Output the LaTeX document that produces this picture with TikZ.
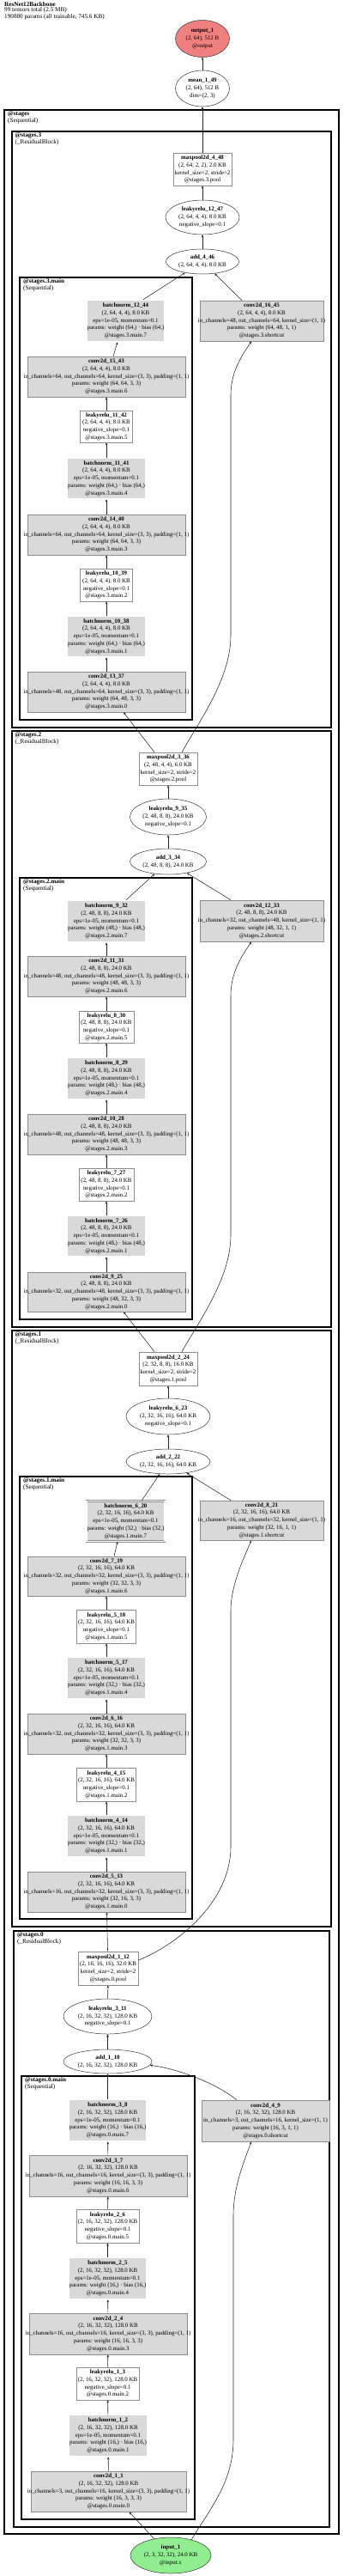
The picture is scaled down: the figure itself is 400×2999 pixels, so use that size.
\documentclass[tikz,border=0pt]{standalone}
\usepackage{fontspec}
\setmainfont{Liberation Serif}
\usetikzlibrary{shapes.geometric,arrows.meta}
\definecolor{convgray}{HTML}{D9D9D9}
\definecolor{outred}{HTML}{F08080}
\definecolor{ingreen}{HTML}{90EE90}
\definecolor{boxline}{HTML}{8C8C8C}
\newcommand{\nfont}{\fontsize{6.9}{8.7}\selectfont}
\newcommand{\cfont}{\fontsize{7.2}{6.3}\selectfont}
\tikzset{
  lbl/.style={font=\nfont, align=center, inner xsep=-25pt, inner ysep=-4pt, text=black},
  convbox/.style={lbl, rectangle, draw=boxline, fill=convgray, line width=0.6pt},
  plainbox/.style={lbl, rectangle, draw=boxline, fill=white, line width=0.6pt},
  bnbox/.style={lbl, rectangle, draw=boxline, fill=convgray, double=white, double distance=1.1pt, line width=0.5pt},
  oval/.style={lbl, ellipse, draw=black!80, fill=white, line width=0.5pt},
  clusterA/.style={draw=black, line width=2.5pt},
  clusterB/.style={draw=black, line width=2.0pt},
  clusterC/.style={draw=black, line width=1.4pt},
  clabel/.style={font=\cfont, align=left, anchor=north west, inner sep=0pt, text=black},
  edge/.style={draw=black!85, line width=0.55pt, -{Stealth[length=3.2pt,width=2.6pt]}},
}
\begin{document}
\begin{tikzpicture}[x=1pt,y=-1pt]
\useasboundingbox (0,0) rectangle (400,2999);
\fill[white] (0,0) rectangle (400,2999);

% ---------- clusters ----------
\draw[clusterA] (5,128) rectangle (395,2950);
\draw[clusterB] (13.5,153) rectangle (386,847);
\draw[clusterC] (23,323) rectangle (224,838);
\draw[clusterB] (13.5,851) rectangle (386,1545);
\draw[clusterC] (23,1022) rectangle (224,1536);
\draw[clusterB] (13.5,1549) rectangle (386,2243);
\draw[clusterC] (23,1719) rectangle (224,2234);
\draw[clusterB] (16,2248) rectangle (384,2942);
\draw[clusterC] (25,2417) rectangle (227,2933);

% ---------- labels ----------
\node[clabel] (hdr) at (5,2) {\textbf{ResNet12Backbone}\\99 tensors total (2.5 MB)\\190880 params (all trainable, 745.6 KB)};
\node[clabel] (Lst) at (9,129.5) {\textbf{@stages}\\(Sequential)};
\node[clabel] (Lst3) at (17.5,154.5) {\textbf{@stages.3}\\(\_ResidualBlock)};
\node[clabel] (Lst3m) at (27,324.5) {\textbf{@stages.3.main}\\(Sequential)};
\node[clabel] (Lst2) at (17.5,852.5) {\textbf{@stages.2}\\(\_ResidualBlock)};
\node[clabel] (Lst2m) at (27,1023.5) {\textbf{@stages.2.main}\\(Sequential)};
\node[clabel] (Lst1) at (17.5,1550.5) {\textbf{@stages.1}\\(\_ResidualBlock)};
\node[clabel] (Lst1m) at (27,1720.5) {\textbf{@stages.1.main}\\(Sequential)};
\node[clabel] (Lst0) at (20,2249.5) {\textbf{@stages.0}\\(\_ResidualBlock)};
\node[clabel] (Lst0m) at (29,2418.5) {\textbf{@stages.0.main}\\(Sequential)};

% ---------- top ----------
\node[oval, fill=outred, minimum width=63pt, minimum height=43pt] (out) at (236,45) {\textbf{output\_1}\\(2, 64), 512 B\\@output};
\node[oval, minimum width=63pt, minimum height=42pt] (mean) at (236,103) {\textbf{mean\_1\_49}\\(2, 64), 512 B\\dim=(2, 3)};

% ---------- stage 3 ----------
\node[plainbox, minimum width=68pt, minimum height=38pt] (mp4) at (236,197) {\textbf{maxpool2d\_4\_48}\\(2, 64, 2, 2), 2.0 KB\\kernel\_size=2, stride=2\\@stages.3.pool};
\node[oval, minimum width=86pt, minimum height=40pt] (lr12) at (236,253) {\textbf{leakyrelu\_12\_47}\\(2, 64, 4, 4), 8.0 KB\\negative\_slope=0.1};
\node[oval, minimum width=85pt, minimum height=29pt] (add4) at (236,304.5) {\textbf{add\_4\_46}\\(2, 64, 4, 4), 8.0 KB};
\node[bnbox, minimum width=91pt, minimum height=49pt] (bn12) at (146.5,373.5) {\textbf{batchnorm\_12\_44}\\(2, 64, 4, 4), 8.0 KB\\eps=1e-05, momentum=0.1\\params: weight (64,) · bias (64,)\\@stages.3.main.7};
\node[convbox, minimum width=144pt, minimum height=47pt] (c16) at (305,373.5) {\textbf{conv2d\_16\_45}\\(2, 64, 4, 4), 8.0 KB\\in\_channels=48, out\_channels=64, kernel\_size=(1, 1)\\params: weight (64, 48, 1, 1)\\@stages.3.shortcut};
\node[convbox, minimum width=184pt, minimum height=47pt] (c15) at (124,438.5) {\textbf{conv2d\_15\_43}\\(2, 64, 4, 4), 8.0 KB\\in\_channels=64, out\_channels=64, kernel\_size=(3, 3), padding=(1, 1)\\params: weight (64, 64, 3, 3)\\@stages.3.main.6};
\node[plainbox, minimum width=61pt, minimum height=37pt] (lr11) at (124,496.5) {\textbf{leakyrelu\_11\_42}\\(2, 64, 4, 4), 8.0 KB\\negative\_slope=0.1\\@stages.3.main.5};
\node[bnbox, minimum width=92pt, minimum height=48pt] (bn11) at (124,557) {\textbf{batchnorm\_11\_41}\\(2, 64, 4, 4), 8.0 KB\\eps=1e-05, momentum=0.1\\params: weight (64,) · bias (64,)\\@stages.3.main.4};
\node[convbox, minimum width=184pt, minimum height=47pt] (c14) at (124,622.5) {\textbf{conv2d\_14\_40}\\(2, 64, 4, 4), 8.0 KB\\in\_channels=64, out\_channels=64, kernel\_size=(3, 3), padding=(1, 1)\\params: weight (64, 64, 3, 3)\\@stages.3.main.3};
\node[plainbox, minimum width=61pt, minimum height=38pt] (lr10) at (124,681) {\textbf{leakyrelu\_10\_39}\\(2, 64, 4, 4), 8.0 KB\\negative\_slope=0.1\\@stages.3.main.2};
\node[bnbox, minimum width=92pt, minimum height=48pt] (bn10) at (124,741) {\textbf{batchnorm\_10\_38}\\(2, 64, 4, 4), 8.0 KB\\eps=1e-05, momentum=0.1\\params: weight (64,) · bias (64,)\\@stages.3.main.1};
\node[convbox, minimum width=184pt, minimum height=47pt] (c13) at (124,805.5) {\textbf{conv2d\_13\_37}\\(2, 64, 4, 4), 8.0 KB\\in\_channels=48, out\_channels=64, kernel\_size=(3, 3), padding=(1, 1)\\params: weight (64, 48, 3, 3)\\@stages.3.main.0};

% ---------- stage 2 ----------
\node[plainbox, minimum width=68pt, minimum height=38pt] (mp3) at (196,895) {\textbf{maxpool2d\_3\_36}\\(2, 48, 4, 4), 6.0 KB\\kernel\_size=2, stride=2\\@stages.2.pool};
\node[oval, minimum width=89pt, minimum height=42pt] (lr9) at (196,951) {\textbf{leakyrelu\_9\_35}\\(2, 48, 8, 8), 24.0 KB\\negative\_slope=0.1};
\node[oval, minimum width=89pt, minimum height=30pt] (add3) at (196,1003) {\textbf{add\_3\_34}\\(2, 48, 8, 8), 24.0 KB};
\node[bnbox, minimum width=92pt, minimum height=49pt] (bn9) at (124,1072.5) {\textbf{batchnorm\_9\_32}\\(2, 48, 8, 8), 24.0 KB\\eps=1e-05, momentum=0.1\\params: weight (48,) · bias (48,)\\@stages.2.main.7};
\node[convbox, minimum width=144pt, minimum height=48pt] (c12) at (305,1072) {\textbf{conv2d\_12\_33}\\(2, 48, 8, 8), 24.0 KB\\in\_channels=32, out\_channels=48, kernel\_size=(1, 1)\\params: weight (48, 32, 1, 1)\\@stages.2.shortcut};
\node[convbox, minimum width=184pt, minimum height=47pt] (c11) at (124,1136.5) {\textbf{conv2d\_11\_31}\\(2, 48, 8, 8), 24.0 KB\\in\_channels=48, out\_channels=48, kernel\_size=(3, 3), padding=(1, 1)\\params: weight (48, 48, 3, 3)\\@stages.2.main.6};
\node[plainbox, minimum width=64pt, minimum height=37pt] (lr8) at (124,1195.5) {\textbf{leakyrelu\_8\_30}\\(2, 48, 8, 8), 24.0 KB\\negative\_slope=0.1\\@stages.2.main.5};
\node[bnbox, minimum width=92pt, minimum height=49pt] (bn8) at (124,1255.5) {\textbf{batchnorm\_8\_29}\\(2, 48, 8, 8), 24.0 KB\\eps=1e-05, momentum=0.1\\params: weight (48,) · bias (48,)\\@stages.2.main.4};
\node[convbox, minimum width=184pt, minimum height=47pt] (c10) at (124,1320.5) {\textbf{conv2d\_10\_28}\\(2, 48, 8, 8), 24.0 KB\\in\_channels=48, out\_channels=48, kernel\_size=(3, 3), padding=(1, 1)\\params: weight (48, 48, 3, 3)\\@stages.2.main.3};
\node[plainbox, minimum width=64pt, minimum height=38pt] (lr7) at (124,1379) {\textbf{leakyrelu\_7\_27}\\(2, 48, 8, 8), 24.0 KB\\negative\_slope=0.1\\@stages.2.main.2};
\node[bnbox, minimum width=92pt, minimum height=48pt] (bn7) at (124,1439) {\textbf{batchnorm\_7\_26}\\(2, 48, 8, 8), 24.0 KB\\eps=1e-05, momentum=0.1\\params: weight (48,) · bias (48,)\\@stages.2.main.1};
\node[convbox, minimum width=184pt, minimum height=46pt] (c9) at (124,1504) {\textbf{conv2d\_9\_25}\\(2, 48, 8, 8), 24.0 KB\\in\_channels=32, out\_channels=48, kernel\_size=(3, 3), padding=(1, 1)\\params: weight (48, 32, 3, 3)\\@stages.2.main.0};

% ---------- stage 1 ----------
\node[plainbox, minimum width=68pt, minimum height=39pt] (mp2) at (196,1593.5) {\textbf{maxpool2d\_2\_24}\\(2, 32, 8, 8), 16.0 KB\\kernel\_size=2, stride=2\\@stages.1.pool};
\node[oval, minimum width=98pt, minimum height=42pt] (lr6) at (196,1649) {\textbf{leakyrelu\_6\_23}\\(2, 32, 16, 16), 64.0 KB\\negative\_slope=0.1};
\node[oval, minimum width=98pt, minimum height=29pt] (add2) at (196,1701.5) {\textbf{add\_2\_22}\\(2, 32, 16, 16), 64.0 KB};
\node[bnbox, minimum width=91pt, minimum height=47pt] (bn6) at (146.5,1771) {\textbf{batchnorm\_6\_20}\\(2, 32, 16, 16), 64.0 KB\\eps=1e-05, momentum=0.1\\params: weight (32,) · bias (32,)\\@stages.1.main.7};
\node[convbox, minimum width=144pt, minimum height=46pt] (c8) at (305,1770) {\textbf{conv2d\_8\_21}\\(2, 32, 16, 16), 64.0 KB\\in\_channels=16, out\_channels=32, kernel\_size=(1, 1)\\params: weight (32, 16, 1, 1)\\@stages.1.shortcut};
\node[convbox, minimum width=184pt, minimum height=46pt] (c7) at (124,1835) {\textbf{conv2d\_7\_19}\\(2, 32, 16, 16), 64.0 KB\\in\_channels=32, out\_channels=32, kernel\_size=(3, 3), padding=(1, 1)\\params: weight (32, 32, 3, 3)\\@stages.1.main.6};
\node[plainbox, minimum width=69pt, minimum height=39pt] (lr5) at (124,1893.5) {\textbf{leakyrelu\_5\_18}\\(2, 32, 16, 16), 64.0 KB\\negative\_slope=0.1\\@stages.1.main.5};
\node[bnbox, minimum width=92pt, minimum height=49pt] (bn5) at (124,1953.5) {\textbf{batchnorm\_5\_17}\\(2, 32, 16, 16), 64.0 KB\\eps=1e-05, momentum=0.1\\params: weight (32,) · bias (32,)\\@stages.1.main.4};
\node[convbox, minimum width=184pt, minimum height=47pt] (c6) at (124,2018.5) {\textbf{conv2d\_6\_16}\\(2, 32, 16, 16), 64.0 KB\\in\_channels=32, out\_channels=32, kernel\_size=(3, 3), padding=(1, 1)\\params: weight (32, 32, 3, 3)\\@stages.1.main.3};
\node[plainbox, minimum width=69pt, minimum height=39pt] (lr4) at (124,2077.5) {\textbf{leakyrelu\_4\_15}\\(2, 32, 16, 16), 64.0 KB\\negative\_slope=0.1\\@stages.1.main.2};
\node[bnbox, minimum width=92pt, minimum height=49pt] (bn4) at (124,2137.5) {\textbf{batchnorm\_4\_14}\\(2, 32, 16, 16), 64.0 KB\\eps=1e-05, momentum=0.1\\params: weight (32,) · bias (32,)\\@stages.1.main.1};
\node[convbox, minimum width=184pt, minimum height=47pt] (c5) at (124,2202.5) {\textbf{conv2d\_5\_13}\\(2, 32, 16, 16), 64.0 KB\\in\_channels=16, out\_channels=32, kernel\_size=(3, 3), padding=(1, 1)\\params: weight (32, 16, 3, 3)\\@stages.1.main.0};

% ---------- stage 0 ----------
\node[plainbox, minimum width=70pt, minimum height=39pt] (mp1) at (126,2291.5) {\textbf{maxpool2d\_1\_12}\\(2, 16, 16, 16), 32.0 KB\\kernel\_size=2, stride=2\\@stages.0.pool};
\node[oval, minimum width=103pt, minimum height=41pt] (lr3) at (125.5,2347.5) {\textbf{leakyrelu\_3\_11}\\(2, 16, 32, 32), 128.0 KB\\negative\_slope=0.1};
\node[oval, minimum width=103pt, minimum height=28pt] (add1) at (125.5,2400) {\textbf{add\_1\_10}\\(2, 16, 32, 32), 128.0 KB};
\node[bnbox, minimum width=91pt, minimum height=49pt] (bn3) at (125.5,2468.5) {\textbf{batchnorm\_3\_8}\\(2, 16, 32, 32), 128.0 KB\\eps=1e-05, momentum=0.1\\params: weight (16,) · bias (16,)\\@stages.0.main.7};
\node[convbox, minimum width=149pt, minimum height=48pt] (c4) at (309.5,2469) {\textbf{conv2d\_4\_9}\\(2, 16, 32, 32), 128.0 KB\\in\_channels=3, out\_channels=16, kernel\_size=(1, 1)\\params: weight (16, 3, 1, 1)\\@stages.0.shortcut};
\node[convbox, minimum width=184pt, minimum height=48pt] (c3) at (126,2533) {\textbf{conv2d\_3\_7}\\(2, 16, 32, 32), 128.0 KB\\in\_channels=16, out\_channels=16, kernel\_size=(3, 3), padding=(1, 1)\\params: weight (16, 16, 3, 3)\\@stages.0.main.6};
\node[plainbox, minimum width=73pt, minimum height=39pt] (lr2) at (125.5,2591.5) {\textbf{leakyrelu\_2\_6}\\(2, 16, 32, 32), 128.0 KB\\negative\_slope=0.1\\@stages.0.main.5};
\node[bnbox, minimum width=91pt, minimum height=49pt] (bn2) at (125.5,2652.5) {\textbf{batchnorm\_2\_5}\\(2, 16, 32, 32), 128.0 KB\\eps=1e-05, momentum=0.1\\params: weight (16,) · bias (16,)\\@stages.0.main.4};
\node[convbox, minimum width=184pt, minimum height=48pt] (c2) at (126,2717) {\textbf{conv2d\_2\_4}\\(2, 16, 32, 32), 128.0 KB\\in\_channels=16, out\_channels=16, kernel\_size=(3, 3), padding=(1, 1)\\params: weight (16, 16, 3, 3)\\@stages.0.main.3};
\node[plainbox, minimum width=73pt, minimum height=38pt] (lr1) at (125.5,2775) {\textbf{leakyrelu\_1\_3}\\(2, 16, 32, 32), 128.0 KB\\negative\_slope=0.1\\@stages.0.main.2};
\node[bnbox, minimum width=92pt, minimum height=49pt] (bn1) at (126,2835.5) {\textbf{batchnorm\_1\_2}\\(2, 16, 32, 32), 128.0 KB\\eps=1e-05, momentum=0.1\\params: weight (16,) · bias (16,)\\@stages.0.main.1};
\node[convbox, minimum width=181pt, minimum height=47pt] (c1) at (126.5,2900.5) {\textbf{conv2d\_1\_1}\\(2, 16, 32, 32), 128.0 KB\\in\_channels=3, out\_channels=16, kernel\_size=(3, 3), padding=(1, 1)\\params: weight (16, 3, 3, 3)\\@stages.0.main.0};

\node[oval, fill=ingreen, minimum width=94pt, minimum height=42pt] (inp) at (199,2975) {\textbf{input\_1}\\(2, 3, 32, 32), 24.0 KB\\@input.x};

% ---------- edges ----------
\draw[edge] (mean) -- (out);
\draw[edge] (mp4) -- (mean);
\draw[edge] (lr12) -- (mp4);
\draw[edge] (add4) -- (lr12);
\draw[edge] ([xshift=20.5pt]bn12.north) -- (add4);
\draw[edge] ([xshift=-23pt]c16.north) -- (add4);
\draw[edge] ([xshift=8pt]c15.north) -- ([xshift=-9.5pt]bn12.south);
\draw[edge] (lr11) -- (c15);
\draw[edge] (bn11) -- (lr11);
\draw[edge] (c14) -- (bn11);
\draw[edge] (lr10) -- (c14);
\draw[edge] (bn10) -- (lr10);
\draw[edge] (c13) -- (bn10);
\draw[edge] ([xshift=-16pt]mp3.north) -- ([xshift=20pt]c13.south);
\draw[edge] ([xshift=16pt]mp3.north) .. controls (232,840) and (269,790) .. (269,740) -- (269,460) .. controls (269,430) and (285,410) .. ([xshift=-12pt]c16.south);

\draw[edge] (lr9) -- (mp3);
\draw[edge] (add3) -- (lr9);
\draw[edge] ([xshift=23pt]bn9.north) -- (add3);
\draw[edge] ([xshift=-36pt]c12.north) -- (add3);
\draw[edge] (c11) -- (bn9);
\draw[edge] (lr8) -- (c11);
\draw[edge] (bn8) -- (lr8);
\draw[edge] (c10) -- (bn8);
\draw[edge] (lr7) -- (c10);
\draw[edge] (bn7) -- (lr7);
\draw[edge] (c9) -- (bn7);
\draw[edge] ([xshift=-16pt]mp2.north) -- ([xshift=20pt]c9.south);
\draw[edge] ([xshift=16pt]mp2.north) .. controls (232,1538) and (269,1488) .. (269,1438) -- (269,1159) .. controls (269,1129) and (285,1109) .. ([xshift=-12pt]c12.south);

\draw[edge] (lr6) -- (mp2);
\draw[edge] (add2) -- (lr6);
\draw[edge] ([xshift=18.5pt]bn6.north) -- (add2);
\draw[edge] ([xshift=-36pt]c8.north) -- (add2);
\draw[edge] ([xshift=9pt]c7.north) -- ([xshift=-9.5pt]bn6.south);
\draw[edge] (lr5) -- (c7);
\draw[edge] (bn5) -- (lr5);
\draw[edge] (c6) -- (bn5);
\draw[edge] (lr4) -- (c6);
\draw[edge] (bn4) -- (lr4);
\draw[edge] (c5) -- (bn4);
\draw[edge] (mp1) -- (c5);
\draw[edge] ([yshift=9.5pt]mp1.east) .. controls (205,2265) and (269,2215) .. (269,2150) -- (269,1875) .. controls (269,1845) and (285,1812) .. ([xshift=-12pt]c8.south);

\draw[edge] (lr3) -- (mp1);
\draw[edge] (add1) -- (lr3);
\draw[edge] (bn3) -- (add1);
\draw[edge] ([xshift=-33.5pt]c4.north) .. controls (250,2424) and (205,2408) .. (add1.-5);
\draw[edge] (c3) -- (bn3);
\draw[edge] (lr2) -- (c3);
\draw[edge] (bn2) -- (lr2);
\draw[edge] (c2) -- (bn2);
\draw[edge] (lr1) -- (c2);
\draw[edge] (bn1) -- (lr1);
\draw[edge] (c1) -- (bn1);
\draw[edge] (inp.135) -- ([xshift=24pt]c1.south);
\draw[edge] (inp.37) .. controls (245,2920) and (272,2890) .. (272,2840) -- (272,2580) .. controls (272,2545) and (285,2515) .. ([xshift=-16.5pt]c4.south);
\end{tikzpicture}
\end{document}
